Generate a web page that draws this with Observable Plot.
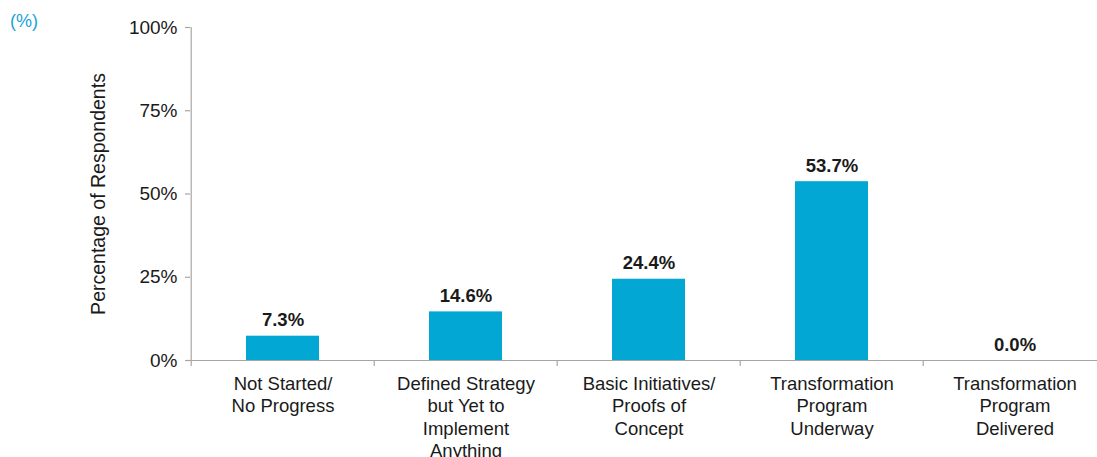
<!DOCTYPE html>
<html>
<head>
<meta charset="utf-8">
<script src="https://cdn.jsdelivr.net/npm/d3@7"></script>
<script src="https://cdn.jsdelivr.net/npm/@observablehq/plot@0.6"></script>
<style>
  html, body { margin: 0; padding: 0; background: #fff; overflow: hidden; }
  #wrap { position: relative; width: 1097px; height: 457px; font-family: "Liberation Sans", Arial, sans-serif; }
  #unit { position: absolute; left: 10px; top: 11px; font-size: 18px; color: #1ba3d6; }
  #chart { position: absolute; left: 0; top: 0; }
</style>
</head>
<body>
<div id="wrap"><div id="chart"></div><div id="unit">(%)</div></div>
<script>
const categories = [
  "Not Started/\nNo Progress",
  "Defined Strategy\nbut Yet to\nImplement\nAnything",
  "Basic Initiatives/\nProofs of\nConcept",
  "Transformation\nProgram\nUnderway",
  "Transformation\nProgram\nDelivered"
];
const values = [7.3, 14.6, 24.4, 53.7, 0.0];
const yTicks = [0, 25, 50, 75, 100];
const yTickLabels = ["0%", "25%", "50%", "75%", "100%"];

const data = categories.map((c, i) => ({cat: c, value: values[i]}));

const width = 1097, height = 457;
const marginLeft = 190, marginRight = -11;
const step = (width - marginRight - marginLeft) / categories.length;
const axisColor = "#a6a6a6";
const textColor = "#1a1a1a";
const fs = 18.5;

const chart = Plot.plot({
  width, height,
  marginLeft, marginRight,
  marginTop: 27, marginBottom: 97,
  style: {fontFamily: "Liberation Sans, Arial, sans-serif", fontSize: fs + "px", color: textColor, overflow: "hidden", background: "transparent"},
  x: {domain: categories, paddingInner: 0.6, paddingOuter: 0.3, axis: null},
  y: {domain: [0, 100], axis: null},
  marks: [
    Plot.barY(data, {x: "cat", y: "value", fill: "#02a7d4"}),
    // y axis ticks & labels
    Plot.axisY({ticks: yTicks, tickFormat: (d) => yTickLabels[yTicks.indexOf(d)], tickSize: 5, tickPadding: 8, stroke: axisColor, strokeWidth: 1.2, fill: textColor, fontSize: 19, label: null}),
    // y axis line (left edge of first band)
    Plot.ruleX([categories[0]], {x: d => d, dx: -step / 2, y1: 0, y2: 100, stroke: axisColor, strokeWidth: 1.2}),
    // baseline
    Plot.ruleY([0], {stroke: axisColor, strokeWidth: 1.2}),
    // category boundary ticks
    Plot.ruleX(categories, {x: d => d, dx: -step / 2, y1: 0, y2: -1.8, stroke: axisColor, strokeWidth: 1.2}),
    // value labels
    Plot.text(data, {x: "cat", y: "value", text: d => d.value.toFixed(1) + "%", lineAnchor: "bottom", dy: -10, fontWeight: "bold", fontSize: fs, fill: textColor}),
    // category labels
    Plot.text(data, {x: "cat", y: 0, text: "cat", lineAnchor: "top", dy: 13, lineHeight: 1.22, fontSize: fs, fill: textColor}),
    // y label
    Plot.text(["Percentage of Respondents"], {frameAnchor: "left", y: 50, dx: -92, rotate: -90, textAnchor: "middle", fontSize: 19.5, fill: textColor})
  ]
});
document.getElementById("chart").appendChild(chart);
</script>
</body>
</html>
